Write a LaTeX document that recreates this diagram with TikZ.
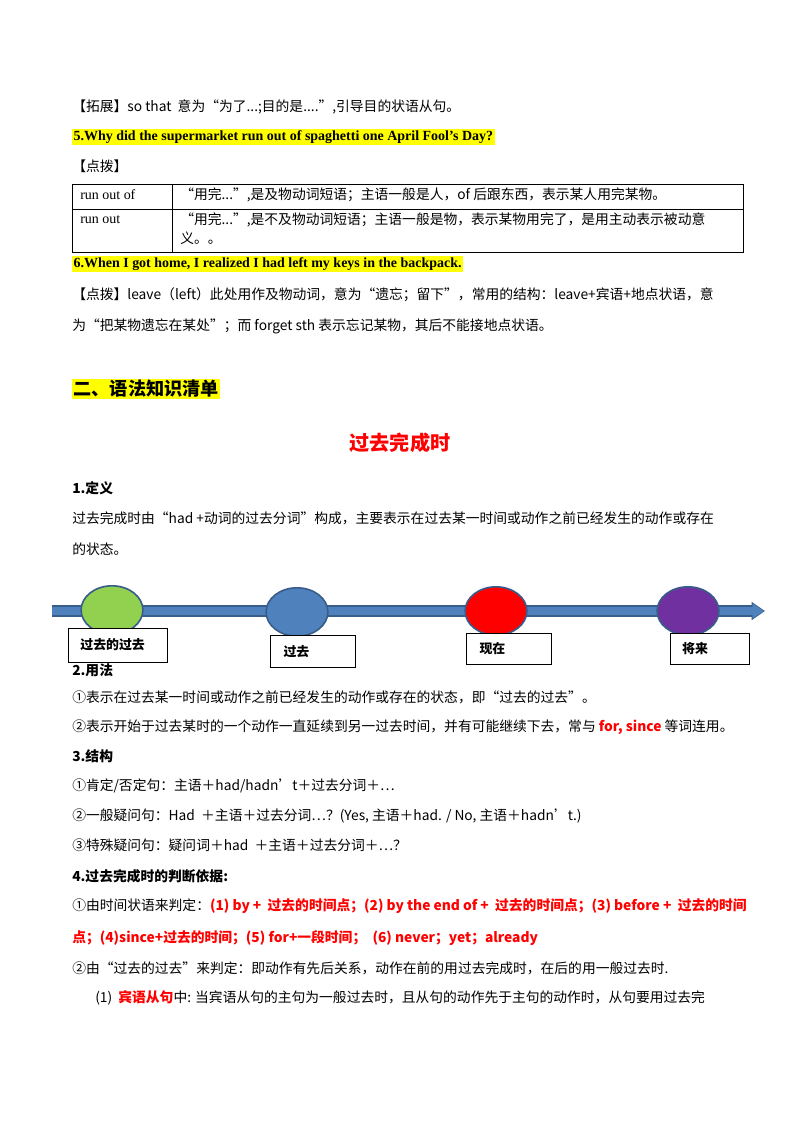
\documentclass[tikz,border=0pt]{standalone}
\usepackage{fontspec}
\setmainfont{Noto Sans CJK SC}
\newfontfamily\lat{Liberation Serif}
\usetikzlibrary{arrows.meta,positioning,shapes.geometric,calc}
\definecolor{hl}{RGB}{255,255,0}
\definecolor{axisblue}{RGB}{79,129,189}
\definecolor{axisedge}{RGB}{56,93,138}
\newcommand{\rb}[1]{\textcolor{red}{\bfseries #1}}
\begin{document}
\begin{tikzpicture}
  [x=0.744pt,y=-0.744pt,
  zeile/.style={anchor=west,inner sep=0pt,font=\fontsize{10.25}{12}\selectfont},
  titel/.style={anchor=west,inner sep=1pt,font=\lat\bfseries\fontsize{10.4}{12}\selectfont,fill=hl},
  fett/.style={zeile,font=\bfseries\fontsize{10.25}{12}\selectfont},
  punkt/.style={ellipse,minimum width=46pt,minimum height=36pt,draw=axisedge,line width=1.2pt},
  marke/.style={rectangle,draw=black,fill=white,inner sep=0pt,anchor=north west,font=\bfseries\fontsize{9.6}{12}\selectfont}]
  \useasboundingbox[fill=white] (0,0) rectangle (800,1132);
  \node (tuozhan) [zeile] at (72,107) {【拓展】so that\ \ 意为“为了...;目的是....”,引导目的状语从句。};
  \node (frage5) [titel] at (72,137) {5.Why did the supermarket run out of spaghetti one April Fool’s Day?};
  \node (dianbo1) [zeile] at (72,166) {【点拨】};
  % table
  \draw[line width=0.6pt] (72,184) rectangle (743,252);
  \draw[line width=0.6pt] (72,209) -- (743,209);
  \draw[line width=0.6pt] (172,184) -- (172,252);
  \node (a1) [zeile,font=\lat\fontsize{10.4}{12}\selectfont] at (80,195) {run out of};
  \node (b1) [zeile] at (180,195) {“用完...”,是及物动词短语；主语一般是人，of 后跟东西，表示某人用完某物。};
  \node (a2) [zeile,font=\lat\fontsize{10.4}{12}\selectfont] at (80,220) {run out};
  \node (b2) [zeile] at (180,220) {“用完...”,是不及物动词短语；主语一般是物，表示某物用完了，是用主动表示被动意};
  \node (b3) [zeile] at (180,238) {义。。};
  \node (frage6) [titel] at (72,264) {6.When I got home, I realized I had left my keys in the backpack.};
  \node (dianbo2) [zeile] at (72,295) {【点拨】leave（left）此处用作及物动词，意为“遗忘；留下”，常用的结构：leave+宾语+地点状语，意};
  \node (dianbo3) [zeile] at (72,326) {为“把某物遗忘在某处”；而 forget sth 表示忘记某物，其后不能接地点状语。};
  \node (teil2) [anchor=west,inner sep=1pt,fill=hl,font=\bfseries\fontsize{13.5}{15}\selectfont] at (72,389) {二、语法知识清单};
  \node (haupt) [text=red,font=\bfseries\fontsize{15}{18}\selectfont] at (400,443) {过去完成时};
  \node (def) [fett] at (72,488) {1.定义};
  \node (def1) [zeile] at (72,518) {过去完成时由“had +动词的过去分词”构成，主要表示在过去某一时间或动作之前已经发生的动作或存在};
  \node (def2) [zeile] at (72,549) {的状态。};
  % timeline
  \coordinate (links) at (52,611);
  \coordinate (rechts) at (765,611);
  \draw[axisedge,line width=9pt,-{Triangle[length=10pt,width=13pt]}] (links) -- (rechts);
  \draw[axisblue,line width=6.6pt,-{Triangle[length=8.5pt,width=10.5pt]}] (links) -- ($(rechts)+(-1,0)$);
  \node (vv) [punkt,fill={rgb,255:red,146;green,208;blue,80}] at (112,610) {};
  \node (vg) [punkt,fill=axisblue] at (297,612) {};
  \node (jetzt) [punkt,fill=red] at (496,611) {};
  \node (zuk) [punkt,fill={rgb,255:red,112;green,48;blue,160}] at (688,611) {};
  \node (m1) [marke,minimum width=74pt,minimum height=25pt] at (68,628) {\hspace*{-8pt}过去的过去};
  \node (m2) [marke,minimum width=63pt,minimum height=24pt] at (270,635) {\hspace*{-24pt}过去};
  \node (m3) [marke,minimum width=63pt,minimum height=23pt] at (466,633) {\hspace*{-24pt}现在};
  \node (m4) [marke,minimum width=59pt,minimum height=23pt] at (670,633) {\hspace*{-22pt}将来};
  \node (use) [fett] at (72,670) {2.用法};
  \node (use1) [zeile] at (72,697) {①表示在过去某一时间或动作之前已经发生的动作或存在的状态，即“过去的过去”。};
  \node (use2) [zeile] at (72,727) {②表示开始于过去某时的一个动作一直延续到另一过去时间，并有可能继续下去，常与 \rb{for, since} 等词连用。};
  \node (struk) [fett] at (72,756) {3.结构};
  \node (s1) [zeile] at (72,786) {①肯定/否定句：主语＋had/hadn’t＋过去分词＋…};
  \node (s2) [zeile] at (72,816) {②一般疑问句：Had \ ＋主语＋过去分词…？(Yes,\ 主语＋had. / No,\ 主语＋hadn’t.)};
  \node (s3) [zeile] at (72,845) {③特殊疑问句：疑问词＋had \ ＋主语＋过去分词＋…？};
  \node (krit) [fett] at (72,876) {4.过去完成时的判断依据:};
  \node (k1) [zeile] at (72,906) {①由时间状语来判定：\rb{(1) by + \ 过去的时间点；(2) by the end of + \ 过去的时间点；(3) before + \ 过去的时间}};
  \node (k2) [zeile] at (72,938) {\rb{点；(4)since+过去的时间；(5) for+一段时间；\ \ (6) never；yet；already}};
  \node (k3) [zeile] at (72,968) {②由“过去的过去”来判定：即动作有先后关系，动作在前的用过去完成时，在后的用一般过去时.};
  \node (k4) [zeile] at (95,998) {(1)\ \ \rb{宾语从句}中: 当宾语从句的主句为一般过去时，且从句的动作先于主句的动作时，从句要用过去完};
\end{tikzpicture}
\end{document}
